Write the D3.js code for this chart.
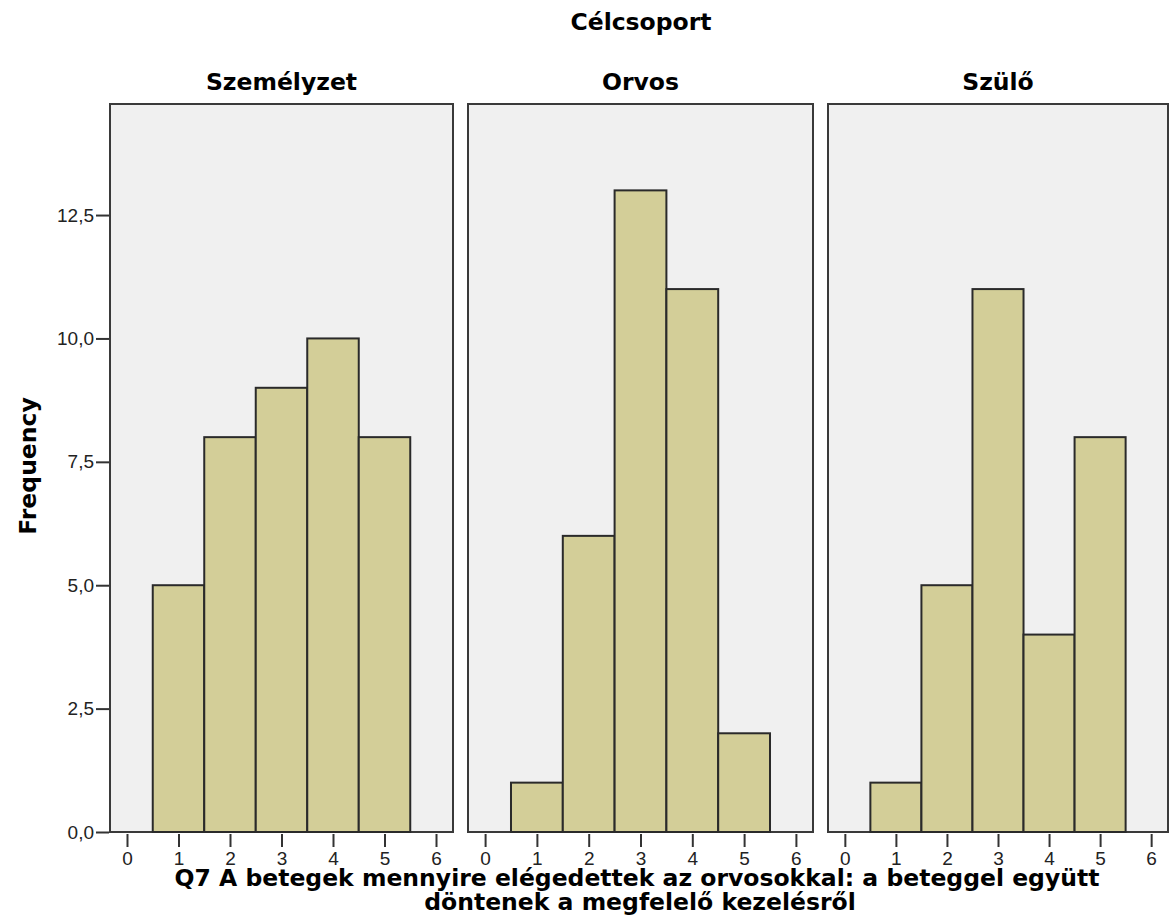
<!DOCTYPE html>
<html><head><meta charset="utf-8">
<script src="https://cdn.jsdelivr.net/npm/d3@7"></script>
<style>body{margin:0;background:#fff}svg{display:block}</style>
</head><body>
<svg id="c" width="1171" height="924"></svg>
<script>
const groups = ["Személyzet", "Orvos", "Szülő"];
const categories = [1, 2, 3, 4, 5];
const szemelyzet = [5, 8, 9, 10, 8];
const orvos = [1, 6, 13, 11, 2];
const szulo = [1, 5, 11, 4, 8];
const yTicks = [0, 2.5, 5, 7.5, 10, 12.5];
const xTicks = [0, 1, 2, 3, 4, 5, 6];
const seriesValues = [szemelyzet, orvos, szulo];

const svg = d3.select("#c");
const font = "'Liberation Sans', Arial, sans-serif";
const boldFont = "'DejaVu Sans', Verdana, sans-serif";
const plotTop = 104, plotBottom = 832;
const panelX = [[110, 453], [468, 813], [828, 1168]];
const y = d3.scaleLinear().domain([0, 14.75]).range([plotBottom, plotTop]);
const fmt = d => d3.format(".1f")(d).replace(".", ",");

svg.append("text").attr("x", 641).attr("y", 30).attr("text-anchor", "middle")
  .attr("font-family", boldFont).attr("font-weight", "bold").attr("font-size", 23.5).text("Célcsoport");

groups.forEach((g, i) => {
  const [x0, x1] = panelX[i];
  const x = d3.scaleLinear().domain([-0.33, 6.33]).range([x0, x1]);
  const gp = svg.append("g");
  gp.append("rect").attr("x", x0).attr("y", plotTop).attr("width", x1 - x0).attr("height", plotBottom - plotTop)
    .attr("fill", "#f0f0f0").attr("stroke", "#3a3a3a").attr("stroke-width", 2);
  gp.selectAll("rect.bar").data(categories).join("rect").attr("class", "bar")
    .attr("x", d => x(d - 0.5)).attr("width", d => x(d + 0.5) - x(d - 0.5))
    .attr("y", (d, j) => y(seriesValues[i][j])).attr("height", (d, j) => y(0) - y(seriesValues[i][j]))
    .attr("fill", "#d3ce98").attr("stroke", "#2a2a2a").attr("stroke-width", 2);
  gp.append("text").attr("x", (x0 + x1) / 2).attr("y", 90).attr("text-anchor", "middle")
    .attr("font-family", boldFont).attr("font-weight", "bold").attr("font-size", 23.5).text(g);
  const ax = d3.axisBottom(x).tickValues(xTicks).tickSize(13).tickPadding(5).tickFormat(d3.format("d"));
  const axg = svg.append("g").attr("transform", `translate(0,${plotBottom + 2})`).call(ax);
  axg.select(".domain").remove();
  axg.selectAll("line").attr("stroke", "#333").attr("stroke-width", 2);
  axg.selectAll("text").attr("font-family", font).attr("font-size", 19).attr("fill", "#222");
});

const ay = d3.axisLeft(y).tickValues(yTicks).tickSize(13).tickPadding(2).tickFormat(fmt);
const ayg = svg.append("g").attr("transform", `translate(${panelX[0][0] - 1},0)`).call(ay);
ayg.select(".domain").remove();
ayg.selectAll("line").attr("stroke", "#333").attr("stroke-width", 2);
ayg.selectAll("text").attr("font-family", font).attr("font-size", 19).attr("fill", "#222");

svg.append("text").attr("transform", "translate(36,466) rotate(-90)").attr("text-anchor", "middle")
  .attr("font-family", boldFont).attr("font-weight", "bold").attr("font-size", 23.5).text("Frequency");

const xt = svg.append("text").attr("text-anchor", "middle").attr("font-family", boldFont)
  .attr("font-weight", "bold").attr("font-size", 23.5);
xt.append("tspan").attr("x", 637).attr("y", 886).text("Q7 A betegek mennyire elégedettek az orvosokkal: a beteggel együtt");
xt.append("tspan").attr("x", 640).attr("y", 910).text("döntenek a megfelelő kezelésről");
</script>
</body></html>
